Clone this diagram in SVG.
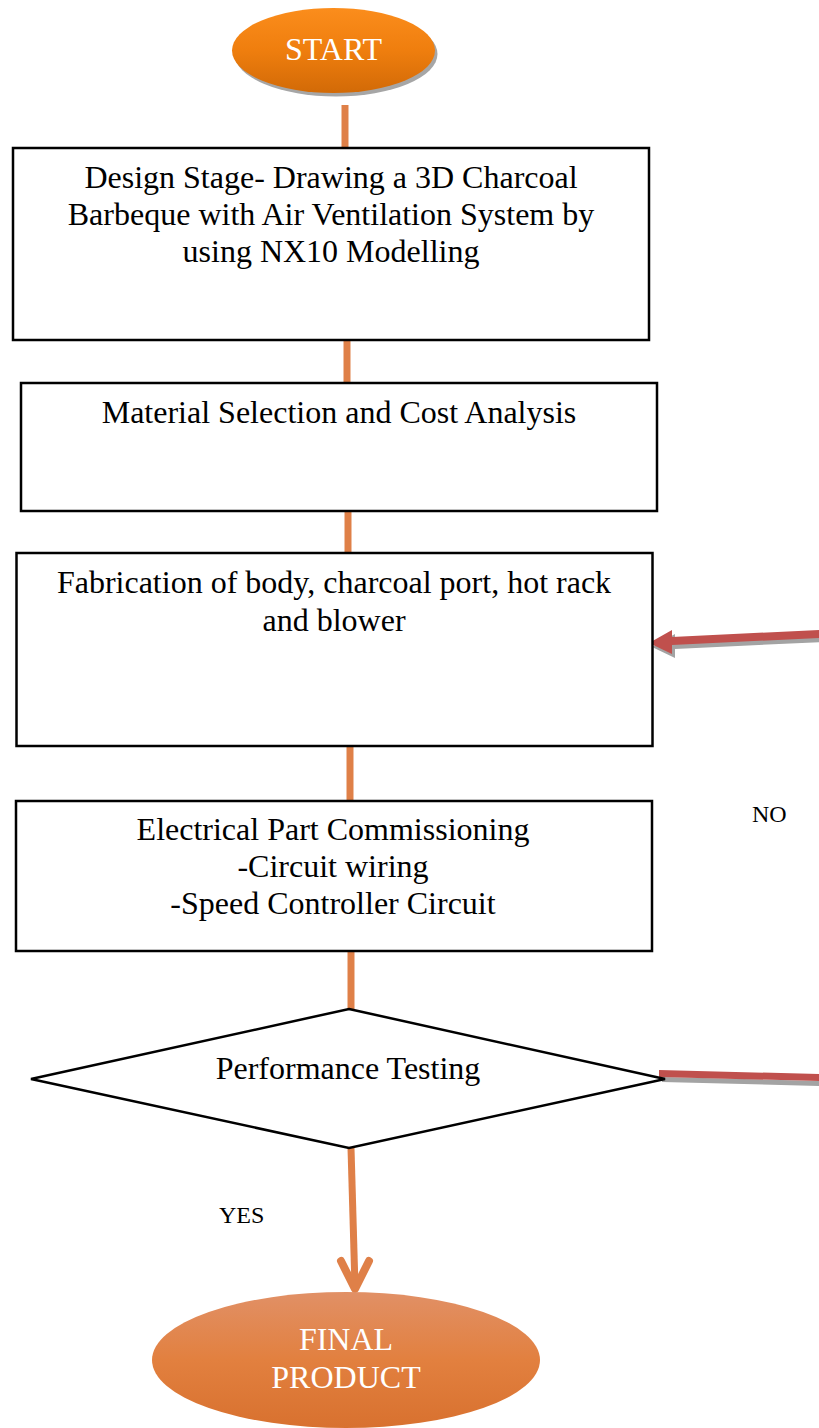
<svg xmlns="http://www.w3.org/2000/svg" width="819" height="1428" viewBox="0 0 819 1428">
<style>
.box{fill:#fff;stroke:#000;stroke-width:2.5}
.t{font-family:"Liberation Serif","Times New Roman",serif;font-size:32px;fill:#000;text-anchor:middle}
.w{fill:#fff}
.lbl{font-family:"Liberation Serif","Times New Roman",serif;font-size:24px;fill:#000}
.conn{stroke:#DF8048;stroke-width:7;fill:none}
</style>
<defs>
<linearGradient id="gStart" x1="0" y1="0" x2="0" y2="1">
<stop offset="0" stop-color="#FB8D1C"/>
<stop offset="0.5" stop-color="#EF7E0E"/>
<stop offset="1" stop-color="#D26A07"/>
</linearGradient>
<linearGradient id="gEnd" x1="0" y1="0" x2="0" y2="1">
<stop offset="0" stop-color="#E19066"/>
<stop offset="0.5" stop-color="#E2803F"/>
<stop offset="1" stop-color="#D8712F"/>
</linearGradient>
</defs>
<rect width="819" height="1428" fill="#fff"/>
<g id="connectors">
<line class="conn" x1="345" y1="105" x2="345" y2="148"/>
<line class="conn" x1="347" y1="341" x2="347" y2="383"/>
<line class="conn" x1="348" y1="511" x2="348" y2="553"/>
<line class="conn" x1="350" y1="746" x2="350" y2="801"/>
<line class="conn" x1="351" y1="951" x2="351" y2="1009"/>
<line class="conn" x1="351" y1="1148" x2="355" y2="1287"/>
<path d="M341,1261 L355,1289 L369,1261" fill="none" stroke="#DF8048" stroke-width="8" stroke-linecap="round" stroke-linejoin="round"/>
<polygon points="662,1077 819,1081 819,1086 662,1082" fill="#A3A3A3"/>
<polygon points="659,1070 819,1074 819,1081 659,1077" fill="#C0504D"/>
<polygon points="652,647 675,634 675,641 822,634 822,642 675,649 675,658" fill="#A3A3A3"/>
<polygon points="649,643 672,630 672,637 819,630 819,638 672,645 672,654" fill="#C0504D"/>
</g>
<g id="start">
<ellipse cx="336" cy="54" rx="101.5" ry="42.5" fill="#A6A6A6"/>
<ellipse cx="333.5" cy="50.5" rx="101.5" ry="42.5" fill="url(#gStart)"/>
<text class="t w" x="333.5" y="60">START</text>
</g>
<g id="design">
<rect class="box" x="13" y="148" width="636" height="192"/>
<text class="t" x="331" y="188">Design Stage- Drawing a 3D Charcoal</text>
<text class="t" x="331" y="225">Barbeque with Air Ventilation System by</text>
<text class="t" x="331" y="262">using NX10 Modelling</text>
</g>
<g id="material">
<rect class="box" x="21" y="383" width="636" height="128"/>
<text class="t" x="339" y="423">Material Selection and Cost Analysis</text>
</g>
<g id="fabrication">
<rect class="box" x="16.5" y="553" width="636" height="193"/>
<text class="t" x="334" y="593">Fabrication of body, charcoal port, hot rack</text>
<text class="t" x="334" y="631">and blower</text>
</g>
<g id="electrical">
<rect class="box" x="16" y="801" width="636" height="150"/>
<text class="t" x="333" y="840">Electrical Part Commissioning</text>
<text class="t" x="333" y="877">-Circuit wiring</text>
<text class="t" x="333" y="914">-Speed Controller Circuit</text>
</g>
<g id="testing">
<polygon points="349,1009 665,1079 349,1148 31,1079" fill="#fff" stroke="#000" stroke-width="2.5"/>
<text class="t" x="348" y="1079">Performance Testing</text>
</g>
<g id="labels">
<text class="lbl" x="752" y="822">NO</text>
<text class="lbl" x="219" y="1223">YES</text>
</g>
<g id="final">
<ellipse cx="346" cy="1360" rx="194" ry="68" fill="url(#gEnd)"/>
<text class="t w" x="346" y="1350">FINAL</text>
<text class="t w" x="346" y="1388">PRODUCT</text>
</g>
</svg>
